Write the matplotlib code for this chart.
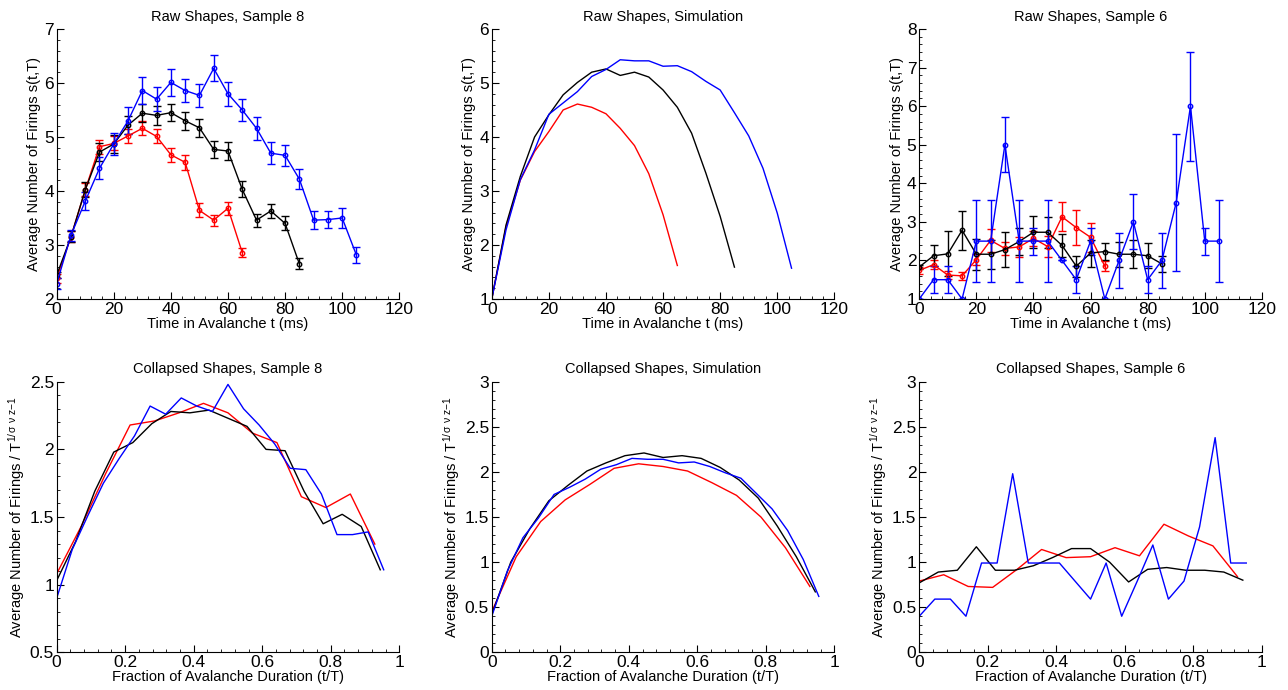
import numpy as np
import matplotlib
matplotlib.use("Agg")
import matplotlib.pyplot as plt
from matplotlib.ticker import AutoMinorLocator

plt.rcParams['font.family'] = ['Liberation Sans', 'DejaVu Sans']
plt.rcParams['mathtext.fontset'] = 'custom'
plt.rcParams['mathtext.rm'] = 'Liberation Sans'
plt.rcParams['mathtext.it'] = 'Liberation Sans'

# durations (ms) for the three avalanche classes
t_red = np.arange(0, 70, 5)
t_black = np.arange(0, 90, 5)
t_blue = np.arange(0, 110, 5)

# fractions of duration for collapsed shapes
f_red = np.arange(14) / 14
f_black = np.arange(18) / 18
f_blue = np.arange(22) / 22

# --- Raw shapes, sample 8 ---
s8_red = [2.38, 3.15, 4.02, 4.82, 4.88, 5.02, 5.16, 5.01, 4.67, 4.53, 3.64, 3.46, 3.68, 2.86]
s8_red_err = [0.08, 0.1, 0.12, 0.13, 0.13, 0.13, 0.13, 0.13, 0.13, 0.14, 0.13, 0.1, 0.12, 0.08]
s8_black = [2.44, 3.15, 4.02, 4.72, 4.87, 5.22, 5.44, 5.40, 5.45, 5.30, 5.17, 4.77, 4.74, 4.03,
            3.46, 3.63, 3.40, 2.65]
s8_black_err = [0.06, 0.1, 0.14, 0.16, 0.16, 0.17, 0.17, 0.17, 0.16, 0.17, 0.17, 0.16, 0.16, 0.15,
                0.12, 0.13, 0.13, 0.1]
s8_blue = [2.28, 3.18, 3.81, 4.42, 4.87, 5.30, 5.86, 5.70, 6.01, 5.86, 5.77, 6.27, 5.80, 5.50,
           5.16, 4.70, 4.66, 4.22, 3.46, 3.47, 3.50, 2.81]
s8_blue_err = [0.1, 0.1, 0.17, 0.2, 0.2, 0.25, 0.25, 0.22, 0.25, 0.22, 0.22, 0.24, 0.22, 0.2,
               0.21, 0.2, 0.2, 0.18, 0.17, 0.16, 0.18, 0.15]

# --- Raw shapes, simulation ---
sim_red = [1.0, 2.34, 3.20, 3.73, 4.10, 4.50, 4.61, 4.55, 4.43, 4.16, 3.84, 3.32, 2.56, 1.62]
sim_black = [1.0, 2.37, 3.27, 4.00, 4.41, 4.78, 5.01, 5.20, 5.26, 5.14, 5.20, 5.11, 4.87, 4.55,
             4.07, 3.33, 2.53, 1.59]
sim_blue = [1.0, 2.28, 3.21, 3.76, 4.42, 4.63, 4.84, 5.12, 5.25, 5.43, 5.41, 5.41, 5.31, 5.32,
            5.21, 5.03, 4.87, 4.45, 4.02, 3.42, 2.59, 1.57]

# --- Raw shapes, sample 6 ---
s6_red = [1.74, 1.89, 1.62, 1.60, 2.02, 2.52, 2.31, 2.35, 2.57, 2.36, 3.13, 2.85, 2.60, 1.85]
s6_red_err = [0.1, 0.12, 0.1, 0.1, 0.15, 0.3, 0.18, 0.25, 0.2, 0.28, 0.38, 0.45, 0.37, 0.13]
s6_black = [1.83, 2.12, 2.17, 2.78, 2.16, 2.16, 2.28, 2.49, 2.73, 2.73, 2.39, 1.85, 2.19, 2.23,
            2.16, 2.16, 2.12, 1.91]
s6_black_err = [0.05, 0.27, 0.58, 0.5, 0.4, 0.37, 0.45, 0.35, 0.42, 0.4, 0.3, 0.27, 0.35, 0.22,
                0.33, 0.36, 0.32, 0.2]
s6_blue = [1.0, 1.5, 1.5, 1.0, 2.5, 2.5, 5.0, 2.5, 2.5, 2.5, 2.0, 1.5, 2.5, 1.0, 2.0, 3.0, 1.5,
           2.0, 3.5, 6.0, 2.5, 2.5]
s6_blue_err = [0.0, 0.35, 0.35, 0.0, 1.06, 1.06, 0.71, 1.06, 0.35, 1.06, 0.0, 0.35, 0.35, 0.0,
               0.71, 0.71, 0.35, 0.71, 1.77, 1.41, 0.35, 1.06]

# --- Collapsed shapes ---
c8_red = [1.08, 1.43, 1.82, 2.18, 2.21, 2.27, 2.34, 2.27, 2.12, 2.05, 1.65, 1.57, 1.67, 1.30]
c8_black = [1.03, 1.32, 1.69, 1.98, 2.05, 2.19, 2.28, 2.27, 2.29, 2.23, 2.17, 2.00, 1.99, 1.69,
            1.45, 1.52, 1.43, 1.11]
c8_blue = [0.90, 1.26, 1.51, 1.75, 1.93, 2.10, 2.32, 2.26, 2.38, 2.32, 2.28, 2.48, 2.30, 2.18,
           2.04, 1.86, 1.85, 1.67, 1.37, 1.37, 1.39, 1.11]

csim_red = [0.45, 1.06, 1.45, 1.69, 1.86, 2.04, 2.09, 2.06, 2.01, 1.88, 1.74, 1.50, 1.16, 0.73]
csim_black = [0.42, 1.00, 1.37, 1.68, 1.85, 2.01, 2.10, 2.18, 2.21, 2.16, 2.18, 2.15, 2.05, 1.91,
              1.71, 1.40, 1.06, 0.67]
csim_blue = [0.40, 0.90, 1.27, 1.49, 1.75, 1.83, 1.92, 2.03, 2.08, 2.15, 2.14, 2.14, 2.10, 2.11,
             2.06, 1.99, 1.93, 1.76, 1.59, 1.35, 1.03, 0.62]

c6_red = [0.79, 0.86, 0.73, 0.72, 0.92, 1.14, 1.05, 1.06, 1.16, 1.07, 1.42, 1.29, 1.18, 0.84]
c6_black = [0.77, 0.89, 0.91, 1.17, 0.91, 0.91, 0.96, 1.05, 1.15, 1.15, 1.00, 0.78, 0.92, 0.94,
            0.91, 0.91, 0.89, 0.80]
c6_blue = [0.40, 0.59, 0.59, 0.40, 0.99, 0.99, 1.98, 0.99, 0.99, 0.99, 0.79, 0.59, 0.99, 0.40,
           0.79, 1.19, 0.59, 0.79, 1.39, 2.38, 0.99, 0.99]

RED, BLACK, BLUE = '#ff0000', '#000000', '#0000ff'
raw_ylabel = 'Average Number of Firings s(t,T)'
col_ylabel = r'Average Number of Firings / T$^{\mathregular{1/\,\sigma\ \nu\ z\!-\!1}}$'

fig = plt.figure(figsize=(12.88, 6.90), dpi=100)
lefts = [0.044, 0.3818, 0.7137]
w = 0.266
top_row = [fig.add_axes([l, 0.5667, w, 0.3913]) for l in lefts]
bot_row = [fig.add_axes([l, 0.0546, w, 0.3922]) for l in lefts]


def style(ax):
    for s in ('top', 'right'):
        ax.spines[s].set_visible(False)
    ax.xaxis.set_minor_locator(AutoMinorLocator(5))
    ax.yaxis.set_minor_locator(AutoMinorLocator(5))
    ax.tick_params(which='both', direction='in', top=False, right=False, labelsize=12.5, pad=2)
    ax.tick_params(which='major', length=5)
    ax.tick_params(which='minor', length=2.5)


def eb(ax, t, y, err, c):
    ax.errorbar(t, y, yerr=err, color=c, lw=1, marker='o', ms=3.2, mfc='none', mew=1,
                capsize=3, elinewidth=1)


# top row
ax = top_row[0]
eb(ax, t_red, s8_red, s8_red_err, RED)
eb(ax, t_black, s8_black, s8_black_err, BLACK)
eb(ax, t_blue, s8_blue, s8_blue_err, BLUE)
ax.set_ylim(2, 7)
ax.set_title('Raw Shapes, Sample 8', fontsize=10.5)

ax = top_row[1]
ax.plot(t_red, sim_red, color=RED, lw=1)
ax.plot(t_black, sim_black, color=BLACK, lw=1)
ax.plot(t_blue, sim_blue, color=BLUE, lw=1)
ax.set_ylim(1, 6)
ax.set_title('Raw Shapes, Simulation', fontsize=10.5)

ax = top_row[2]
eb(ax, t_red, s6_red, s6_red_err, RED)
eb(ax, t_black, s6_black, s6_black_err, BLACK)
eb(ax, t_blue, s6_blue, s6_blue_err, BLUE)
ax.set_ylim(1, 8)
ax.set_title('Raw Shapes, Sample 6', fontsize=10.5)

for ax in top_row:
    ax.set_xlim(0, 120)
    ax.set_xticks(np.arange(0, 121, 20))
    ax.set_xlabel('Time in Avalanche t (ms)', fontsize=10.5, labelpad=0)
    ax.set_ylabel(raw_ylabel, fontsize=10.5, labelpad=2)
    style(ax)

# bottom row
series = [(c8_red, c8_black, c8_blue, (0.5, 2.5), np.arange(0.5, 2.51, 0.5), 'Collapsed Shapes, Sample 8'),
          (csim_red, csim_black, csim_blue, (0, 3), np.arange(0, 3.01, 0.5), 'Collapsed Shapes, Simulation'),
          (c6_red, c6_black, c6_blue, (0, 3), np.arange(0, 3.01, 0.5), 'Collapsed Shapes, Sample 6')]
for ax, (r, k, b, yl, yt, title) in zip(bot_row, series):
    ax.plot(f_red, r, color=RED, lw=1)
    ax.plot(f_black, k, color=BLACK, lw=1)
    ax.plot(f_blue, b, color=BLUE, lw=1)
    ax.set_xlim(0, 1)
    ax.set_ylim(*yl)
    ax.set_yticks(yt)
    ax.set_yticklabels(['%g' % v for v in yt])
    ax.set_xticks(np.arange(0, 1.01, 0.2))
    ax.set_xticklabels(['0', '0.2', '0.4', '0.6', '0.8', '1'])
    ax.set_title(title, fontsize=10.5)
    ax.set_xlabel('Fraction of Avalanche Duration (t/T)', fontsize=10.5, labelpad=0)
    ax.set_ylabel(col_ylabel, fontsize=10.5, labelpad=2)
    style(ax)

fig.savefig('out.png', dpi=100)
